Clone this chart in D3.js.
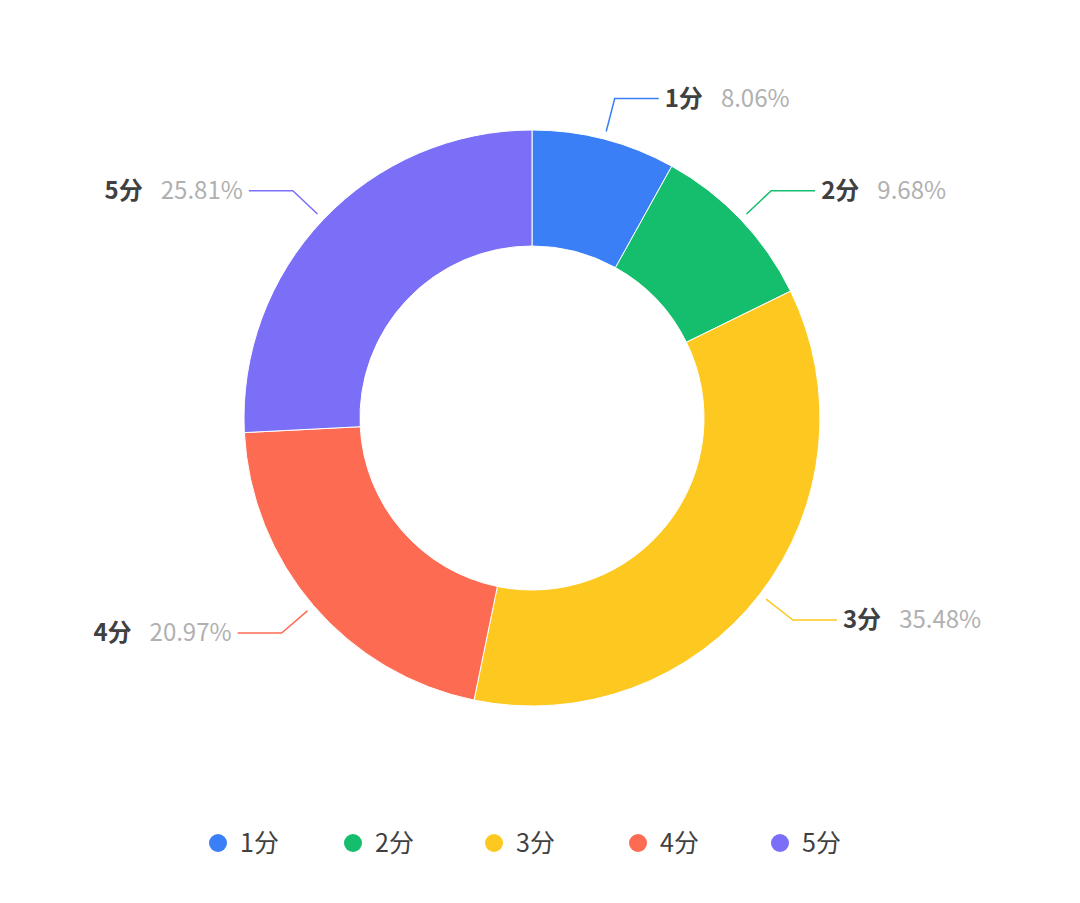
<!DOCTYPE html>
<html><head><meta charset="utf-8">
<script src="https://cdn.jsdelivr.net/npm/d3@7/dist/d3.min.js"></script>
<style>body{margin:0;background:#fff}</style></head>
<body><svg id="c" width="1080" height="903"></svg>
<script>
const categories=["1分","2分","3分","4分","5分"];
const values=[5,6,22,13,16];
const percents=["8.06%","9.68%","35.48%","20.97%","25.81%"];
const colors=["#3a7ff6","#14be6c","#fdc921","#fd6b52","#7a6ff6"];
const font="'Noto Sans CJK SC','Noto Sans',sans-serif";
const svg=d3.select("#c");
const cx=532,cy=418,R=288,r=172;
const g=svg.append("g").attr("transform",`translate(${cx},${cy})`);
const pie=d3.pie().sort(null)(values);
const arc=d3.arc().innerRadius(r).outerRadius(R);
g.selectAll("path.s").data(pie).join("path").attr("d",arc).attr("fill",(d,i)=>colors[i]).attr("stroke","#fff").attr("stroke-width",1);
pie.forEach((d,i)=>{
  const a=(d.startAngle+d.endAngle)/2;
  const p=rr=>[rr*Math.sin(a),-rr*Math.cos(a)];
  const s=p(R+8), e=p(R+42);
  const dir=Math.sin(a)>=0?1:-1;
  const h=[e[0]+dir*44,e[1]];
  g.append("polyline").attr("points",[s,e,h].map(q=>q.join(",")).join(" "))
   .attr("fill","none").attr("stroke",colors[i]).attr("stroke-width",1.5);
  const t=g.append("text").attr("x",h[0]+dir*6).attr("y",h[1]).attr("dy","0.35em")
   .attr("text-anchor",dir>0?"start":"end").attr("font-family",font).attr("font-size",24);
  t.append("tspan").attr("fill","#404040").attr("font-weight","bold").text(categories[i]);
  t.append("tspan").attr("fill","#b0b0b0").attr("dx",18).text(percents[i]);
});
const lx=[218,353,494,638,780];
const lg=svg.append("g");
categories.forEach((c,i)=>{
  lg.append("circle").attr("cx",lx[i]).attr("cy",843).attr("r",9).attr("fill",colors[i]);
  lg.append("text").attr("x",lx[i]+22).attr("y",843).attr("dy","0.35em").attr("font-family",font)
    .attr("font-size",25).attr("fill","#404040").text(c);
});
</script></body></html>
